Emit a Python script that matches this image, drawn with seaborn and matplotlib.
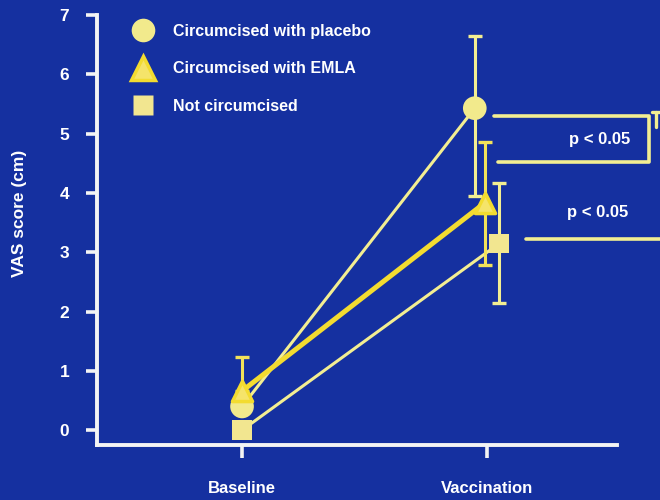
import matplotlib
matplotlib.use("Agg")
import matplotlib.pyplot as plt
import seaborn as sns
import pandas as pd
from matplotlib.lines import Line2D

# podatki (VAS, odčitano s slike)
skupine = ["Circumcised with placebo", "Circumcised with EMLA", "Not circumcised"]
casi = ["Baseline", "Vaccination"]
placebo = [0.40, 5.43]
emla = [0.66, 3.83]
ni_obrezan = [0.00, 3.15]
# zgornji in spodnji konci napak
placebo_zg = [0.40, 6.64]
placebo_sp = [0.40, 3.95]
emla_zg = [1.23, 4.86]
emla_sp = [0.66, 2.78]
ni_zg = [0.00, 4.16]
ni_sp = [0.00, 2.14]
y_ticks = [0, 1, 2, 3, 4, 5, 6, 7]
p_oznaka = "p < 0.05"

vrednosti = {skupine[0]: placebo, skupine[1]: emla, skupine[2]: ni_obrezan}
zgornji = {skupine[0]: placebo_zg, skupine[1]: emla_zg, skupine[2]: ni_zg}
spodnji = {skupine[0]: placebo_sp, skupine[1]: emla_sp, skupine[2]: ni_sp}

# zamik pri cepljenju, da se točke ne prekrivajo
zamik = {skupine[0]: -0.05, skupine[1]: -0.01, skupine[2]: 0.05}

vrstice = []
for s in skupine:
    for i, c in enumerate(casi):
        vrstice.append({"skupina": s, "cas": c,
                        "x": i + (zamik[s] if i == 1 else 0.0),
                        "vas": vrednosti[s][i],
                        "zg": zgornji[s][i], "sp": spodnji[s][i]})
df = pd.DataFrame(vrstice)

modra = "#1530a0"
bleda = "#f3ee92"
zlata = "#f3dc30"
bela = "#f4f4f4"

sns.set_theme(style="white")
plt.rcParams['font.family'] = ['Liberation Sans', 'DejaVu Sans']
plt.rcParams['font.weight'] = 'bold'

fig = plt.figure(figsize=(6.6, 5.0), dpi=100)
fig.patch.set_facecolor(modra)
ax = fig.add_axes([97 / 660, 55 / 500, 563 / 660, 440 / 500])
ax.set_facecolor(modra)

barve_crt = {skupine[0]: bleda, skupine[1]: zlata, skupine[2]: bleda}
debeline = {skupine[0]: 2.2, skupine[1]: 3.6, skupine[2]: 2.2}
sns.lineplot(data=df, x="x", y="vas", hue="skupina", palette=barve_crt,
             size="skupina", sizes=debeline, estimator=None, sort=False,
             legend=False, ax=ax)

for s in skupine:
    d = df[df.skupina == s]
    ax.errorbar(d.x, d.vas, yerr=[d.vas - d.sp, d.zg - d.vas], fmt="none",
                ecolor=bleda if s != skupine[1] else "#f2e25a",
                elinewidth=2.2, capsize=5, capthick=2.4, zorder=3)

oblike = {skupine[0]: "o", skupine[1]: "^", skupine[2]: "s"}
barve_tock = {skupine[0]: "#f2ea8c", skupine[1]: "#f5e46a", skupine[2]: "#f2e690"}
velikosti = {skupine[0]: 290, skupine[1]: 210, skupine[2]: 200}
sns.scatterplot(data=df[df.skupina != skupine[1]], x="x", y="vas", hue="skupina",
                style="skupina", markers=oblike, palette=barve_tock,
                size="skupina", sizes=velikosti, linewidth=0, legend=False,
                ax=ax, zorder=5)
sns.scatterplot(data=df[df.skupina == skupine[1]], x="x", y="vas",
                marker="^", color=barve_tock[skupine[1]], s=velikosti[skupine[1]],
                edgecolor=zlata, linewidth=2.5, legend=False, ax=ax, zorder=6)

# oznake značilnosti
ax.plot([1.03, 1.66, 1.66, 1.045], [5.30, 5.30, 4.52, 4.52], color=bleda,
        lw=2.6, clip_on=False, zorder=4)
ax.plot([1.16, 1.75], [3.22, 3.22], color=bleda, lw=2.6, clip_on=False, zorder=4)
ax.plot([1.675, 1.72], [5.36, 5.36], color=bleda, lw=2.4, clip_on=False)
ax.plot([1.69, 1.69], [5.36, 5.12], color=bleda, lw=2.4, clip_on=False)
ax.text(1.46, 4.90, p_oznaka, color="white", fontsize=12, fontweight="bold",
        ha="center", va="center")
ax.text(1.45, 3.67, p_oznaka, color="white", fontsize=12, fontweight="bold",
        ha="center", va="center")

ax.set_xlim(-0.592, 1.706)
ax.set_ylim(-0.25, 7.17)
ax.set_xticks(range(len(casi)))
ax.set_xticklabels(casi)
ax.set_yticks(y_ticks)
ax.set_yticklabels([str(t) for t in y_ticks])
ax.set_xlabel("")
ax.set_ylabel("VAS score (cm)", color="white", fontsize=12.5, fontweight="bold")
ax.yaxis.set_label_coords(-0.124, 0.527)

for k in ["top", "right"]:
    ax.spines[k].set_visible(False)
ax.spines["left"].set_bounds(-0.25, 7)
ax.spines["bottom"].set_bounds(-0.592, 1.53)
for k in ["left", "bottom"]:
    ax.spines[k].set_color(bela)
    ax.spines[k].set_linewidth(2.8)

ax.tick_params(axis="y", direction="out", length=8, width=2.6, color=bela,
               labelcolor="white", labelsize=12.5, pad=12, left=True)
ax.tick_params(axis="x", direction="out", length=9, width=2.6, color=bela,
               labelcolor="white", labelsize=12, pad=17, bottom=True)
for t in ax.get_xticklabels() + ax.get_yticklabels():
    t.set_fontweight("bold")

rocke = [
    Line2D([], [], ls="none", marker="o", ms=17, mfc=barve_tock[skupine[0]], mec="none"),
    Line2D([], [], ls="none", marker="^", ms=17, mfc=barve_tock[skupine[1]], mec=zlata, mew=2.5),
    Line2D([], [], ls="none", marker="s", ms=14, mfc=barve_tock[skupine[2]], mec="none"),
]
leg = fig.legend(rocke, skupine, loc="upper left", bbox_to_anchor=(131 / 660, 1 - 24 / 500),
                 frameon=False, borderpad=0, borderaxespad=0, handlelength=1.5,
                 handletextpad=1.1, labelspacing=1.4,
                 prop={"size": 11.5, "weight": "bold", "family": ["Liberation Sans", "DejaVu Sans"]})
for t in leg.get_texts():
    t.set_color("white")

fig.savefig("out.png", dpi=100, facecolor=modra)
